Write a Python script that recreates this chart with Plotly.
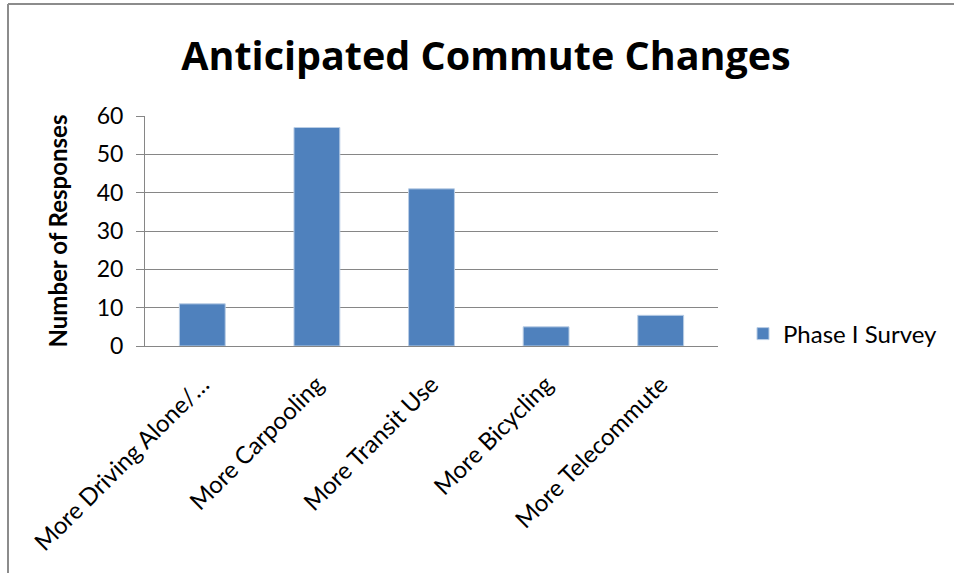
import plotly.graph_objects as go

categories = ["More Driving Alone/…", "More Carpooling", "More Transit Use", "More Bicycling", "More Telecommute"]
values = [11, 57, 41, 5, 8]
series_name = "Phase I Survey"
y_ticks = [0, 10, 20, 30, 40, 50, 60]

FONT = "Lato"
fig = go.Figure()
fig.add_trace(go.Bar(
    x=categories, y=values, name=series_name,
    marker=dict(color="#4F81BD", line=dict(color="#B9CDE5", width=1)),
    showlegend=True,
))

L, T, W, H = 145, 116, 573, 230
fig.update_layout(
    width=954, height=573,
    margin=dict(l=L, r=954 - L - W, t=T, b=573 - T - H, autoexpand=False),
    paper_bgcolor="white", plot_bgcolor="white",
    font=dict(family=FONT, color="black", size=24),
    bargap=0.6,
    title=dict(text="<b>Anticipated Commute Changes</b>", x=486 / 954, xanchor="center",
               y=1 - 56 / 573, yanchor="middle", font=dict(size=39.5, family="Open Sans")),
    showlegend=True,
    legend=dict(x=(743 - L) / W, y=(346 - 334) / H, xanchor="left", yanchor="middle",
                font=dict(size=24, family=FONT), itemwidth=30, bgcolor="rgba(0,0,0,0)"),
    xaxis=dict(tickangle=-45, showgrid=False, showline=True, linecolor="#868686", linewidth=1,
               ticks="", tickfont=dict(size=24), range=[-0.5, 4.5], ticklabelstandoff=14),
    yaxis=dict(range=[0, 60], tickvals=y_ticks, showgrid=True, gridcolor="#868686", gridwidth=1,
               showline=True, linecolor="#868686", linewidth=1, ticks="outside", ticklen=8,
               tickcolor="#868686", tickfont=dict(size=23), zeroline=False, ticklabelstandoff=8,
               title=dict(text="<b>Number of Responses</b>", font=dict(size=24), standoff=22)),
)

# chart border (top and left edges visible)
bx = (8 - L) / W
by = (346 - 4) / H
fig.add_shape(type="line", xref="paper", yref="paper", x0=bx, x1=bx, y0=by, y1=-1.2,
              line=dict(color="#8C8C8C", width=2))
fig.add_shape(type="line", xref="paper", yref="paper", x0=bx, x1=(960 - L) / W, y0=by, y1=by,
              line=dict(color="#8C8C8C", width=2))

fig.write_html("out.html", config={"displayModeBar": False},
               post_script="document.body.style.margin='0px';")
